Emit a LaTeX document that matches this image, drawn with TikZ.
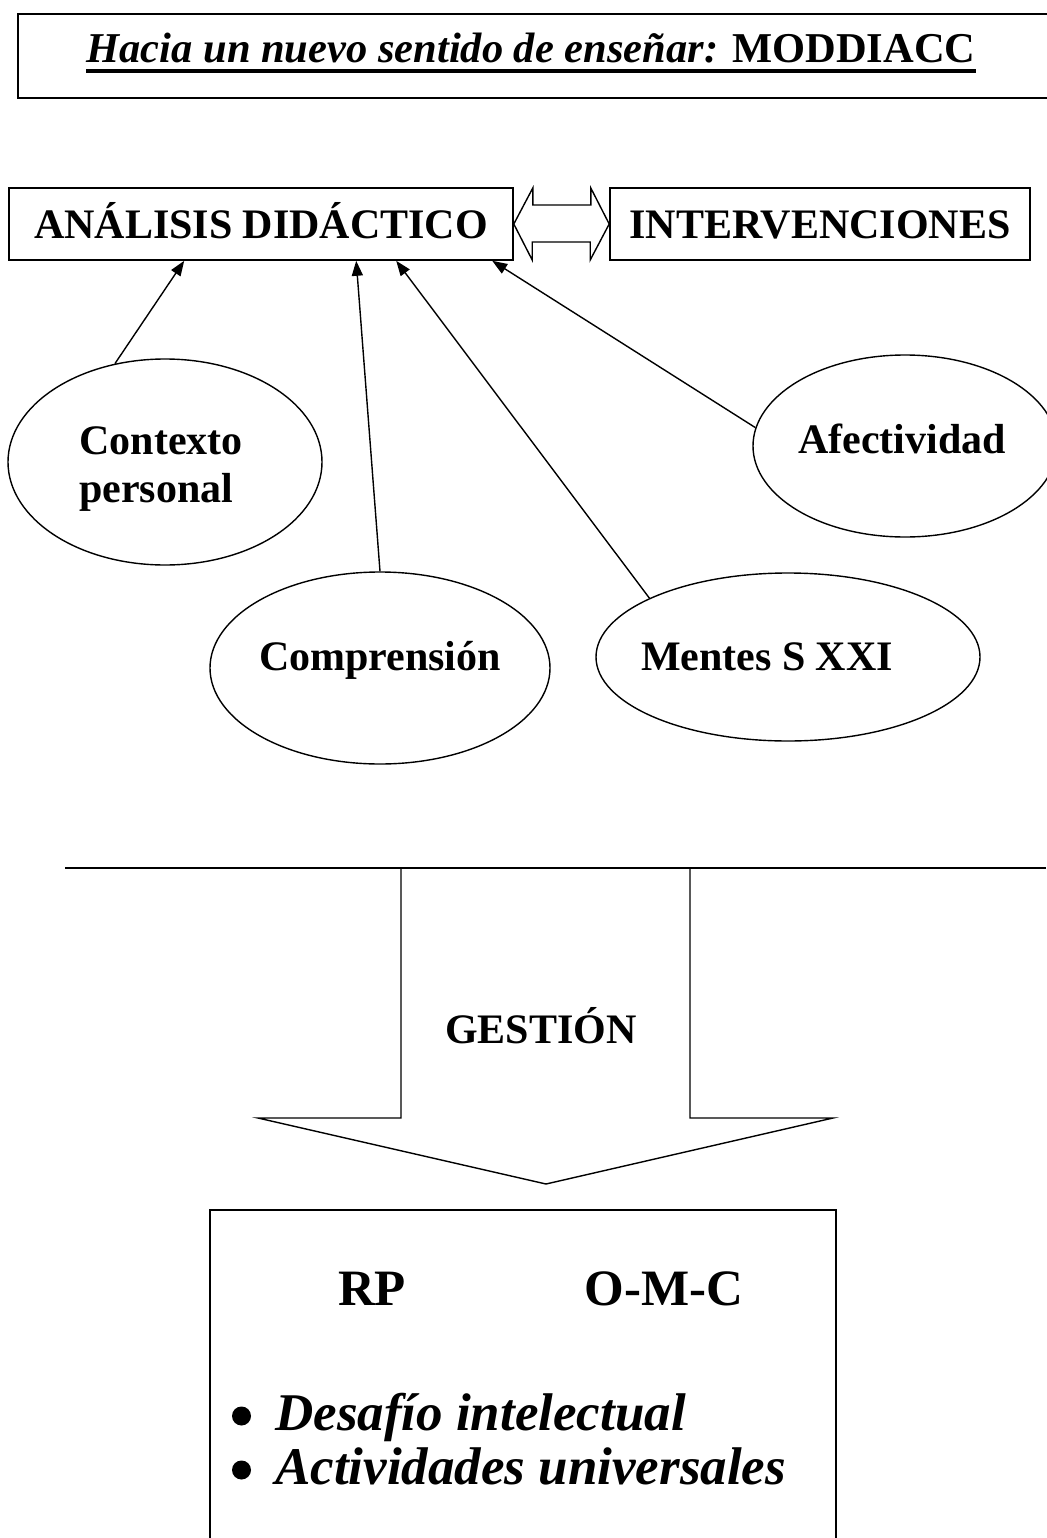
\documentclass[tikz,border=0pt]{standalone}
\usepackage{fontspec}
\setmainfont{Liberation Serif}
\usetikzlibrary{positioning,shapes.geometric,arrows.meta}

\begin{document}
\begin{tikzpicture}[x=1pt, y=-1pt,
    >={Triangle[length=15pt,width=11pt]},
    caja/.style={draw, line width=1.6pt, minimum height=72pt, text height=29pt, text depth=0pt,
                 font=\bfseries\fontsize{42}{48}\selectfont},
    elipse/.style={draw, ellipse, inner sep=0pt, line width=1.4pt},
    texto/.style={inner sep=0pt, anchor=base, font=\bfseries\fontsize{42}{48}\selectfont},
    punto/.style={circle, fill, inner sep=0pt, minimum size=19pt},
    flecha/.style={->, line width=1.4pt},
  ]
  \useasboundingbox (0,0) rectangle (1046,1538);

  % titulo
  \node[draw, line width=1.8pt, anchor=north west, minimum width=1080pt, minimum height=84pt] (marco) at (17,13) {};
  \node[texto, font=\bfseries\fontsize{42.5}{48}\selectfont] (titulo) at (531,63)
    {\textit{Hacia un nuevo sentido de enseñar:} MODDIACC};
  \draw[line width=4.5pt] ([yshift=-8pt]titulo.base west) -- ([yshift=-8pt]titulo.base east);

  % analisis e intervenciones
  \node[caja, minimum width=504pt] (anal) at (261,224) {ANÁLISIS DIDÁCTICO};
  \node[caja, minimum width=420pt] (interv) at (820,224) {INTERVENCIONES};
  \draw[line width=1.4pt] (anal.east) -- ++(19,-36) -- ++(0,17) -- ++(58,0) -- ++(0,-17) -- (interv.west)
    -- ++(-19,36) -- ++(0,-18) -- ++(-58,0) -- ++(0,18) -- cycle;

  % elipses
  \node[elipse, minimum width=314pt, minimum height=206pt] (ctx) at (165,462) {};
  \node[elipse, minimum width=340pt, minimum height=192pt] (comp) at (380,668) {};
  \node[elipse, minimum width=384pt, minimum height=168pt] (ment) at (788,657) {};
  \node[elipse, minimum width=304pt, minimum height=182pt] (afec) at (905,446) {};

  \node[texto, anchor=center, align=left] (ctxtxt) at (161,469) {Contexto\\personal};
  \node[texto] (comptxt) at (380,670) {Comprensión};
  \node[texto] (menttxt) at (767,670) {Mentes S XXI};
  \node[texto] (afectxt) at (902,453) {Afectividad};

  % flechas
  \draw[flecha] (ctx.117) -- ([xshift=176pt]anal.south west);
  \draw[flecha] (comp.north) -- ([xshift=348pt]anal.south west);
  \draw[flecha] (ment.157) -- ([xshift=388pt]anal.south west);
  \draw[flecha] (afec.173) -- ([xshift=484pt]anal.south west);

  % regla
  \draw[line width=1.4pt] (65,868) -- (1046,868);

  % gestion
  \draw[line width=1.4pt] (401,868) -- (401,1118) -- (258,1118) -- (546,1184)
    -- (833,1118) -- (690,1118) -- (690,868);
  \node[texto] (gest) at (541,1043) {GESTIÓN};

  % resultado
  \node[draw, line width=1.6pt, anchor=north west, minimum width=626pt, minimum height=400pt] (res) at (209,1209) {};
  \node[texto, font=\bfseries\fontsize{51}{58}\selectfont] (rp) at (372,1305) {RP};
  \node[texto, font=\bfseries\fontsize{51}{58}\selectfont] (omc) at (664,1305) {O-M-C};
  \node[texto, anchor=base west, font=\bfseries\itshape\fontsize{53}{60}\selectfont] (item1) at (275,1430)
    {Desafío intelectual};
  \node[texto, anchor=base west, font=\bfseries\itshape\fontsize{53}{60}\selectfont] (item2) at (275,1484)
    {Actividades universales};
  \node[punto] (p1) at (241.5,1416) {};
  \node[punto] (p2) at (241.5,1470) {};
\end{tikzpicture}
\end{document}
